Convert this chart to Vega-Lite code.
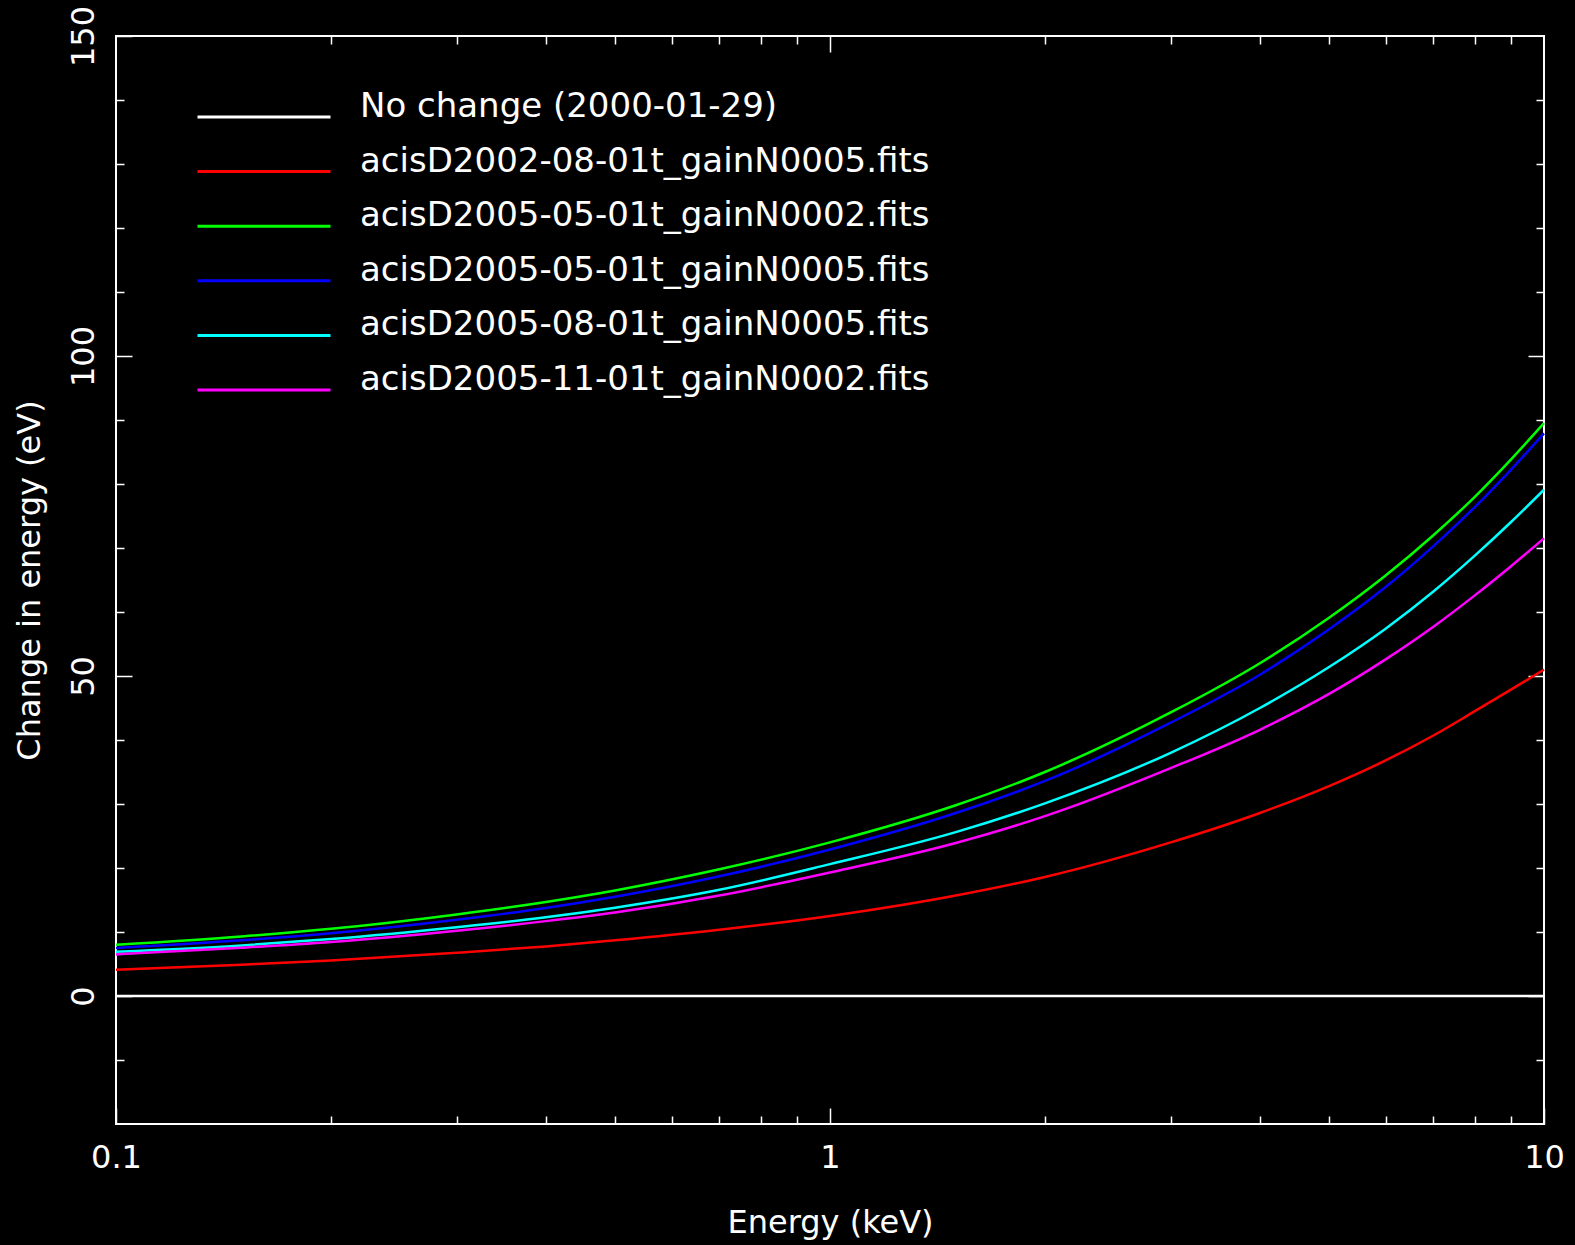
{
  "$schema": "https://vega.github.io/schema/vega-lite/v6.json",
  "width": 1428,
  "height": 1088,
  "autosize": {"type": "none"},
  "padding": {"left": 116, "top": 36, "right": 31, "bottom": 121},
  "background": "black",
  "config": {
    "view": {"stroke": "white", "strokeWidth": 2},
    "font": "DejaVu Sans",
    "axis": {
      "grid": false, "domain": false, "tickColor": "white", "tickWidth": 1.5,
      "labelColor": "white", "titleColor": "white",
      "labelFont": "DejaVu Sans", "titleFont": "DejaVu Sans",
      "labelFontSize": 32, "titleFontSize": 32, "titleFontWeight": "normal",
      "labelFlush": false, "labelOverlap": false, "labelBound": false
    }
  },
  "data": {"values": [
    {"series": "No change (2000-01-29)", "energy": 0.1, "dE": 0},
    {"series": "No change (2000-01-29)", "energy": 10, "dE": 0},
    {"series": "acisD2002-08-01t_gainN0005.fits", "energy": 0.1, "dE": 4.1},
    {"series": "acisD2002-08-01t_gainN0005.fits", "energy": 0.15, "dE": 4.9},
    {"series": "acisD2002-08-01t_gainN0005.fits", "energy": 0.2, "dE": 5.55},
    {"series": "acisD2002-08-01t_gainN0005.fits", "energy": 0.3, "dE": 6.75},
    {"series": "acisD2002-08-01t_gainN0005.fits", "energy": 0.4, "dE": 7.75},
    {"series": "acisD2002-08-01t_gainN0005.fits", "energy": 0.5, "dE": 8.7},
    {"series": "acisD2002-08-01t_gainN0005.fits", "energy": 0.7, "dE": 10.35},
    {"series": "acisD2002-08-01t_gainN0005.fits", "energy": 1, "dE": 12.5},
    {"series": "acisD2002-08-01t_gainN0005.fits", "energy": 1.5, "dE": 15.7},
    {"series": "acisD2002-08-01t_gainN0005.fits", "energy": 2, "dE": 18.6},
    {"series": "acisD2002-08-01t_gainN0005.fits", "energy": 3, "dE": 24.0},
    {"series": "acisD2002-08-01t_gainN0005.fits", "energy": 4, "dE": 28.6},
    {"series": "acisD2002-08-01t_gainN0005.fits", "energy": 5, "dE": 32.8},
    {"series": "acisD2002-08-01t_gainN0005.fits", "energy": 6, "dE": 36.8},
    {"series": "acisD2002-08-01t_gainN0005.fits", "energy": 7, "dE": 40.7},
    {"series": "acisD2002-08-01t_gainN0005.fits", "energy": 8, "dE": 44.5},
    {"series": "acisD2002-08-01t_gainN0005.fits", "energy": 9, "dE": 47.9},
    {"series": "acisD2002-08-01t_gainN0005.fits", "energy": 10, "dE": 51.0},
    {"series": "acisD2005-05-01t_gainN0002.fits", "energy": 0.1, "dE": 8.0},
    {"series": "acisD2005-05-01t_gainN0002.fits", "energy": 0.15, "dE": 9.3},
    {"series": "acisD2005-05-01t_gainN0002.fits", "energy": 0.2, "dE": 10.5},
    {"series": "acisD2005-05-01t_gainN0002.fits", "energy": 0.3, "dE": 12.75},
    {"series": "acisD2005-05-01t_gainN0002.fits", "energy": 0.4, "dE": 14.7},
    {"series": "acisD2005-05-01t_gainN0002.fits", "energy": 0.5, "dE": 16.5},
    {"series": "acisD2005-05-01t_gainN0002.fits", "energy": 0.7, "dE": 19.8},
    {"series": "acisD2005-05-01t_gainN0002.fits", "energy": 1, "dE": 24.0},
    {"series": "acisD2005-05-01t_gainN0002.fits", "energy": 1.5, "dE": 29.8},
    {"series": "acisD2005-05-01t_gainN0002.fits", "energy": 2, "dE": 35.0},
    {"series": "acisD2005-05-01t_gainN0002.fits", "energy": 3, "dE": 44.3},
    {"series": "acisD2005-05-01t_gainN0002.fits", "energy": 4, "dE": 52.0},
    {"series": "acisD2005-05-01t_gainN0002.fits", "energy": 5, "dE": 59.1},
    {"series": "acisD2005-05-01t_gainN0002.fits", "energy": 6, "dE": 65.7},
    {"series": "acisD2005-05-01t_gainN0002.fits", "energy": 7, "dE": 72.0},
    {"series": "acisD2005-05-01t_gainN0002.fits", "energy": 8, "dE": 78.0},
    {"series": "acisD2005-05-01t_gainN0002.fits", "energy": 9, "dE": 83.9},
    {"series": "acisD2005-05-01t_gainN0002.fits", "energy": 10, "dE": 89.5},
    {"series": "acisD2005-05-01t_gainN0005.fits", "energy": 0.1, "dE": 7.5},
    {"series": "acisD2005-05-01t_gainN0005.fits", "energy": 0.15, "dE": 8.7},
    {"series": "acisD2005-05-01t_gainN0005.fits", "energy": 0.2, "dE": 9.8},
    {"series": "acisD2005-05-01t_gainN0005.fits", "energy": 0.3, "dE": 11.9},
    {"series": "acisD2005-05-01t_gainN0005.fits", "energy": 0.4, "dE": 13.75},
    {"series": "acisD2005-05-01t_gainN0005.fits", "energy": 0.5, "dE": 15.5},
    {"series": "acisD2005-05-01t_gainN0005.fits", "energy": 0.7, "dE": 18.7},
    {"series": "acisD2005-05-01t_gainN0005.fits", "energy": 1, "dE": 22.9},
    {"series": "acisD2005-05-01t_gainN0005.fits", "energy": 1.5, "dE": 28.6},
    {"series": "acisD2005-05-01t_gainN0005.fits", "energy": 2, "dE": 33.6},
    {"series": "acisD2005-05-01t_gainN0005.fits", "energy": 3, "dE": 42.7},
    {"series": "acisD2005-05-01t_gainN0005.fits", "energy": 4, "dE": 50.2},
    {"series": "acisD2005-05-01t_gainN0005.fits", "energy": 5, "dE": 57.3},
    {"series": "acisD2005-05-01t_gainN0005.fits", "energy": 6, "dE": 63.9},
    {"series": "acisD2005-05-01t_gainN0005.fits", "energy": 7, "dE": 70.3},
    {"series": "acisD2005-05-01t_gainN0005.fits", "energy": 8, "dE": 76.4},
    {"series": "acisD2005-05-01t_gainN0005.fits", "energy": 9, "dE": 82.3},
    {"series": "acisD2005-05-01t_gainN0005.fits", "energy": 10, "dE": 87.9},
    {"series": "acisD2005-08-01t_gainN0005.fits", "energy": 0.1, "dE": 6.9},
    {"series": "acisD2005-08-01t_gainN0005.fits", "energy": 0.15, "dE": 7.9},
    {"series": "acisD2005-08-01t_gainN0005.fits", "energy": 0.2, "dE": 8.9},
    {"series": "acisD2005-08-01t_gainN0005.fits", "energy": 0.3, "dE": 10.75},
    {"series": "acisD2005-08-01t_gainN0005.fits", "energy": 0.4, "dE": 12.3},
    {"series": "acisD2005-08-01t_gainN0005.fits", "energy": 0.5, "dE": 13.8},
    {"series": "acisD2005-08-01t_gainN0005.fits", "energy": 0.7, "dE": 16.6},
    {"series": "acisD2005-08-01t_gainN0005.fits", "energy": 1, "dE": 20.6},
    {"series": "acisD2005-08-01t_gainN0005.fits", "energy": 1.5, "dE": 25.6},
    {"series": "acisD2005-08-01t_gainN0005.fits", "energy": 2, "dE": 30.1},
    {"series": "acisD2005-08-01t_gainN0005.fits", "energy": 3, "dE": 38.0},
    {"series": "acisD2005-08-01t_gainN0005.fits", "energy": 4, "dE": 45.0},
    {"series": "acisD2005-08-01t_gainN0005.fits", "energy": 5, "dE": 51.4},
    {"series": "acisD2005-08-01t_gainN0005.fits", "energy": 6, "dE": 57.4},
    {"series": "acisD2005-08-01t_gainN0005.fits", "energy": 7, "dE": 63.2},
    {"series": "acisD2005-08-01t_gainN0005.fits", "energy": 8, "dE": 68.8},
    {"series": "acisD2005-08-01t_gainN0005.fits", "energy": 9, "dE": 74.1},
    {"series": "acisD2005-08-01t_gainN0005.fits", "energy": 10, "dE": 79.1},
    {"series": "acisD2005-11-01t_gainN0002.fits", "energy": 0.1, "dE": 6.5},
    {"series": "acisD2005-11-01t_gainN0002.fits", "energy": 0.15, "dE": 7.55},
    {"series": "acisD2005-11-01t_gainN0002.fits", "energy": 0.2, "dE": 8.45},
    {"series": "acisD2005-11-01t_gainN0002.fits", "energy": 0.3, "dE": 10.2},
    {"series": "acisD2005-11-01t_gainN0002.fits", "energy": 0.4, "dE": 11.7},
    {"series": "acisD2005-11-01t_gainN0002.fits", "energy": 0.5, "dE": 13.05},
    {"series": "acisD2005-11-01t_gainN0002.fits", "energy": 0.7, "dE": 15.7},
    {"series": "acisD2005-11-01t_gainN0002.fits", "energy": 1, "dE": 19.3},
    {"series": "acisD2005-11-01t_gainN0002.fits", "energy": 1.5, "dE": 23.9},
    {"series": "acisD2005-11-01t_gainN0002.fits", "energy": 2, "dE": 28.1},
    {"series": "acisD2005-11-01t_gainN0002.fits", "energy": 3, "dE": 35.6},
    {"series": "acisD2005-11-01t_gainN0002.fits", "energy": 4, "dE": 41.6},
    {"series": "acisD2005-11-01t_gainN0002.fits", "energy": 5, "dE": 47.2},
    {"series": "acisD2005-11-01t_gainN0002.fits", "energy": 6, "dE": 52.6},
    {"series": "acisD2005-11-01t_gainN0002.fits", "energy": 7, "dE": 57.7},
    {"series": "acisD2005-11-01t_gainN0002.fits", "energy": 8, "dE": 62.6},
    {"series": "acisD2005-11-01t_gainN0002.fits", "energy": 9, "dE": 67.2},
    {"series": "acisD2005-11-01t_gainN0002.fits", "energy": 10, "dE": 71.5}
  ]},
  "layer": [
    {
      "mark": {"type": "line", "interpolate": "monotone", "strokeWidth": 2.5},
      "encoding": {
        "x": {"field": "energy", "type": "quantitative",
          "scale": {"type": "log", "domain": [0.1, 10], "nice": false},
          "axis": {"orient": "bottom", "values": [0.1, 1, 10], "format": "~g", "tickSize": -16, "labelPadding": 34, "title": "Energy (keV)", "titlePadding": 34}},
        "y": {"field": "dE", "type": "quantitative",
          "scale": {"domain": [-20, 150], "nice": false, "zero": false},
          "axis": {"orient": "left", "values": [0, 50, 100, 150], "format": "d", "tickSize": -16, "labelPadding": 39, "labelAngle": 270, "labelAlign": "center", "labelBaseline": "alphabetic", "title": "Change in energy (eV)", "titlePadding": 21}},
        "color": {"field": "series", "type": "nominal",
          "scale": {
            "domain": ["No change (2000-01-29)", "acisD2002-08-01t_gainN0005.fits", "acisD2005-05-01t_gainN0002.fits", "acisD2005-05-01t_gainN0005.fits", "acisD2005-08-01t_gainN0005.fits", "acisD2005-11-01t_gainN0002.fits"],
            "range": ["#ffffff", "#ff0000", "#00ff00", "#0000ff", "#00ffff", "#ff00ff"]},
          "legend": {"title": null, "orient": "none", "legendX": 80, "legendY": 61, "padding": 0,
            "symbolType": "stroke", "symbolSize": 17689, "symbolStrokeWidth": 3,
            "clipHeight": 40, "rowPadding": 7.6, "labelOffset": 28, "labelBaseline": "alphabetic",
            "labelColor": "white", "labelFontSize": 34, "labelFont": "DejaVu Sans", "labelLimit": 0}}
      }
    },
    {
      "mark": {"type": "line", "opacity": 0},
      "encoding": {
        "x": {"field": "energy", "type": "quantitative", "scale": {"type": "log", "domain": [0.1, 10], "nice": false},
          "axis": {"orient": "top", "values": [0.2, 0.3, 0.4, 0.5, 0.6, 0.7, 0.8, 0.9, 2, 3, 4, 5, 6, 7, 8, 9], "labels": false, "tickSize": -8, "title": null}},
        "y": {"field": "dE", "type": "quantitative", "scale": {"domain": [-20, 150], "nice": false, "zero": false},
          "axis": {"orient": "right", "values": [-10, 10, 20, 30, 40, 60, 70, 80, 90, 110, 120, 130, 140], "labels": false, "tickSize": -8, "title": null}}
      }
    },
    {
      "mark": {"type": "line", "opacity": 0},
      "encoding": {
        "x": {"field": "energy", "type": "quantitative", "scale": {"type": "log", "domain": [0.1, 10], "nice": false},
          "axis": {"orient": "bottom", "values": [0.2, 0.3, 0.4, 0.5, 0.6, 0.7, 0.8, 0.9, 2, 3, 4, 5, 6, 7, 8, 9], "labels": false, "tickSize": -8, "title": null}},
        "y": {"field": "dE", "type": "quantitative", "scale": {"domain": [-20, 150], "nice": false, "zero": false},
          "axis": {"orient": "left", "values": [-10, 10, 20, 30, 40, 60, 70, 80, 90, 110, 120, 130, 140], "labels": false, "tickSize": -8, "title": null}}
      }
    },
    {
      "mark": {"type": "line", "opacity": 0},
      "encoding": {
        "x": {"field": "energy", "type": "quantitative", "scale": {"type": "log", "domain": [0.1, 10], "nice": false},
          "axis": {"orient": "top", "values": [1], "labels": false, "tickSize": -16, "title": null}},
        "y": {"field": "dE", "type": "quantitative", "scale": {"domain": [-20, 150], "nice": false, "zero": false},
          "axis": {"orient": "right", "values": [0, 50, 100], "labels": false, "tickSize": -16, "title": null}}
      }
    }
  ],
  "resolve": {"axis": {"x": "independent", "y": "independent"}}
}
